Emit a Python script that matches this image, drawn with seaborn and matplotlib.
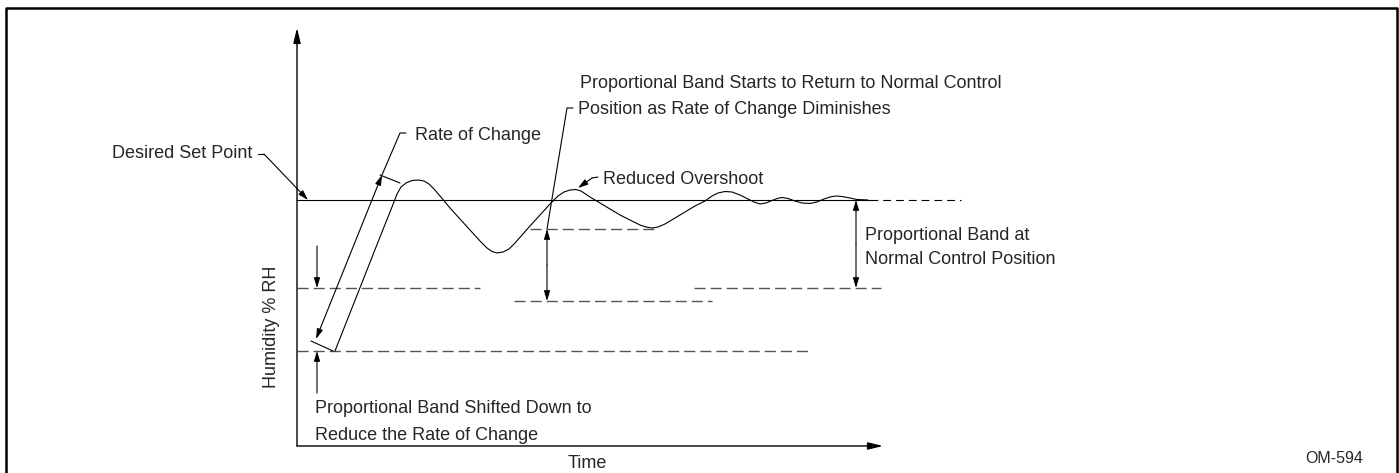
import matplotlib
matplotlib.use("Agg")
import matplotlib.pyplot as plt
import seaborn as sns

sns.set_style("white")
plt.rcParams['font.family'] = ['Liberation Sans', 'DejaVu Sans']

# humidity response curve (time units, humidity units)
time_curve = [38, 53, 68, 83, 95, 100, 104, 109, 115, 121, 127, 132, 137, 143,
              153, 163, 173, 183, 190, 195, 200, 206, 212, 218, 225, 233, 243,
              253, 261, 267, 273, 279, 284, 293, 303, 313, 323, 333, 343, 349,
              355, 361, 368, 378, 388, 398, 408, 415, 421, 428, 435, 443, 451,
              457, 463, 469, 475, 480, 485, 491, 498, 505, 513, 520, 527, 533,
              539, 545, 553, 560, 571]
humidity_curve = [95, 133, 171, 209, 239, 252, 259, 263, 265.5, 266, 265, 262,
                  257, 250, 238, 227, 216, 205, 198, 194.5, 193, 194, 197, 203,
                  211, 220, 231, 242, 250, 254, 256, 256.5, 255, 249, 243, 237,
                  231, 226, 221, 219, 218, 219, 222, 228, 234, 240, 245, 250,
                  253, 254.5, 254, 251, 247, 244, 242, 243, 245.5, 247.5, 248.5,
                  247.5, 245, 243, 242.5, 244, 247, 249, 250, 249.5, 248, 246.5,
                  246]

set_point = 246
set_point_end = 573
set_point_dash_end = 664

# dashed proportional band limits: (level, start, end)
band_levels = [158, 145, 158, 95, 217]
band_starts = [0, 217, 397, 0, 233]
band_ends = [183, 415, 584, 515, 358]

axis_x_end = 586
axis_y_end = 418

fig = plt.figure(figsize=(13.99, 4.73), dpi=100)
ax = fig.add_axes([0, 0, 1, 1])
ax.set_xlim(-297, 1102)
ax.set_ylim(-27, 446)
ax.axis('off')

k = 'black'
thin = 0.8


def seg(xs, ys, **kw):
    sns.lineplot(x=xs, y=ys, ax=ax, sort=False, estimator=None, legend=False,
                 **kw)


def arrow(p0, p1, style='-|>', hl=0.6, hw=0.18, lw=thin):
    ax.annotate('', xy=p1, xytext=p0,
                arrowprops=dict(arrowstyle=f'{style},head_length={hl},head_width={hw}',
                                color=k, lw=lw, shrinkA=0, shrinkB=0,
                                mutation_scale=10))


# outer frame
seg([-291, -291, 1100, 1100], [-40, 438, 438, -40], color=k, linewidth=1.8)

# axes with arrow heads
arrow((0, 0), (0, axis_y_end), hl=0.9, hw=0.22, lw=1.0)
arrow((0, 0), (axis_x_end, 0), hl=0.9, hw=0.22, lw=1.0)

# set point
seg([0, set_point_end], [set_point, set_point], color=k, linewidth=thin)
seg([set_point_end, set_point_dash_end], [set_point, set_point], color=k,
    linewidth=thin, linestyle=(0, (7, 4.5)))

# dashed band lines
for lev, a, b in zip(band_levels, band_starts, band_ends):
    seg([a, b], [lev, lev], color='#555555', linewidth=1.0,
        linestyle=(0, (8, 3.6)))

# response curve
sns.lineplot(x=time_curve, y=humidity_curve, ax=ax, sort=False, estimator=None,
             color=k, linewidth=thin)

# rate of change dimension
arrow((52, 189), (19, 107))
arrow((52, 189), (85, 271))
seg([85, 103, 109], [271, 313, 313], color=k, linewidth=thin)
seg([83, 103], [271, 263], color=k, linewidth=thin)
seg([14, 36], [105, 95], color=k, linewidth=thin)

# shift arrows
arrow((20, 200), (20, 158))
arrow((20, 53), (20, 95))

# band starting to return
arrow((250, 181), (250, 217))
arrow((250, 181), (250, 145))
seg([250, 270, 276], [217, 338, 338], color=k, linewidth=thin)

# normal control position band
arrow((559, 202), (559, set_point))
arrow((559, 202), (559, 158))

# leaders
seg([-39, -33], [292, 292], color=k, linewidth=thin)
arrow((-33, 292), (11, set_point))
seg([301, 295], [269, 268], color=k, linewidth=thin)
arrow((295, 268), (281, 258))

fs = 13
ax.text(-185, 292, 'Desired Set Point', fontsize=fs, va='center')
ax.text(118, 311, 'Rate of Change', fontsize=fs, va='center')
ax.text(283, 363, 'Proportional Band Starts to Return to Normal Control',
        fontsize=fs, va='center')
ax.text(281, 336, 'Position as Rate of Change Diminishes', fontsize=fs,
        va='center')
ax.text(306, 267, 'Reduced Overshoot', fontsize=fs, va='center')
ax.text(568, 210, 'Proportional Band at', fontsize=fs, va='center')
ax.text(568, 186, 'Normal Control Position', fontsize=fs, va='center')
ax.text(18, 38, 'Proportional Band Shifted Down to', fontsize=fs, va='center')
ax.text(18, 11, 'Reduce the Rate of Change', fontsize=fs, va='center')
ax.text(-25, 119, 'Humidity % RH', fontsize=fs, rotation=90, ha='center',
        va='center')
ax.text(290, -17, 'Time', fontsize=fs, ha='center', va='center')
ax.text(1008, -12, 'OM-594', fontsize=11.5, va='center')

fig.savefig('out.png', dpi=100)
